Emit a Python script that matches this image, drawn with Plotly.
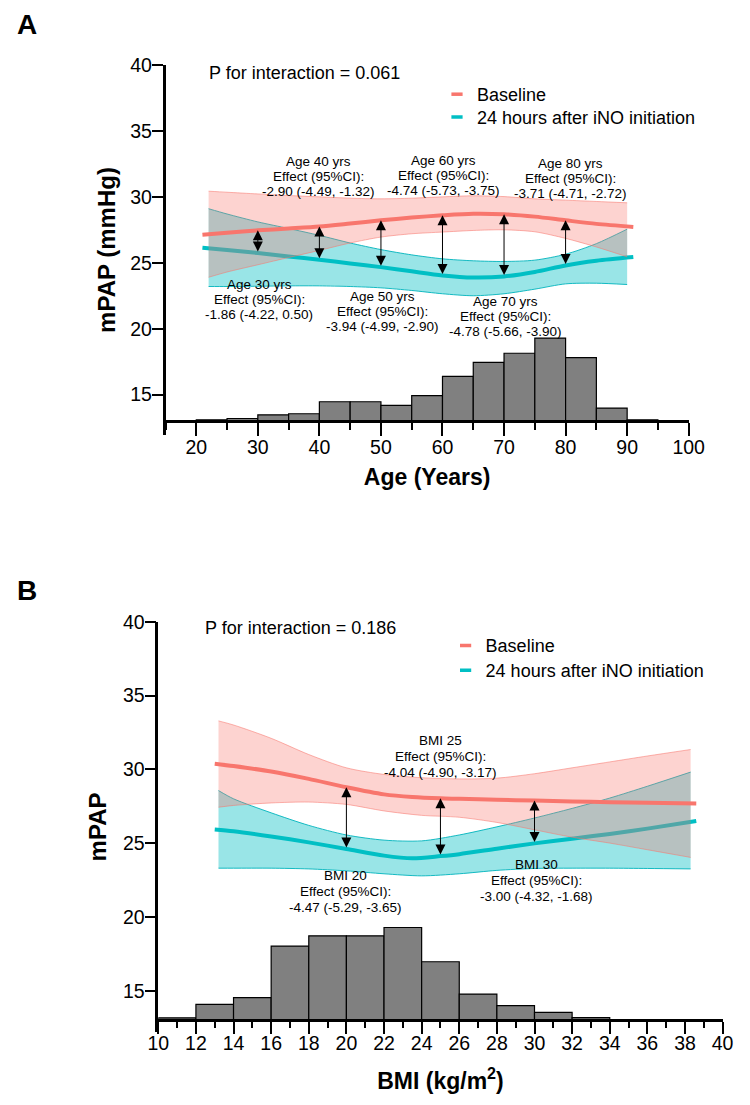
import numpy as np
import plotly.graph_objects as go

FONT = "Liberation Sans, Arial, Helvetica, sans-serif"
W, H = 750, 1105

RED = "#F8766D"
TEAL = "#00BFC4"
RED_BAND = "rgba(248,118,109,0.32)"
TEAL_BAND = "rgba(0,191,196,0.40)"
RED_EDGE = "rgba(248,118,109,0.55)"
TEAL_EDGE = "rgba(0,180,188,0.9)"

# ---------------- Panel A : Age ----------------
age_line_x = [21, 25, 30, 35, 40, 45, 50, 55, 60, 65, 70, 75, 80, 85, 91]
age_baseline = [27.13, 27.27, 27.46, 27.60, 27.75, 27.98, 28.22, 28.43, 28.60, 28.72, 28.68, 28.50, 28.22, 27.95, 27.72]
age_ino = [26.14, 25.97, 25.74, 25.48, 25.23, 24.95, 24.67, 24.35, 24.04, 23.88, 23.96, 24.30, 24.80, 25.15, 25.43]

age_band_x = [22, 25, 30, 35, 40, 45, 50, 55, 60, 65, 70, 75, 80, 85, 90]
age_base_hi = [30.43, 30.35, 30.22, 30.10, 30.00, 29.90, 29.85, 29.90, 30.00, 30.08, 30.02, 29.85, 29.75, 29.65, 29.55]
age_base_lo = [23.90, 24.30, 24.85, 25.40, 25.94, 26.50, 26.95, 27.20, 27.33, 27.45, 27.50, 27.35, 26.85, 26.20, 25.45]
age_ino_hi = [29.10, 28.70, 28.10, 27.60, 27.08, 26.50, 26.00, 25.60, 25.30, 25.15, 25.10, 25.20, 25.65, 26.45, 27.55]
age_ino_lo = [23.20, 23.20, 23.22, 23.25, 23.25, 23.20, 23.10, 22.90, 22.65, 22.50, 22.65, 23.00, 23.40, 23.45, 23.35]

age_hist_edges = [20, 25, 30, 35, 40, 45, 50, 55, 60, 65, 70, 75, 80, 85, 90, 95]
age_hist_top = [13.09, 13.19, 13.47, 13.55, 14.46, 14.46, 14.18, 14.92, 16.38, 17.45, 18.14, 19.29, 17.81, 13.98, 13.09]

age_arrow_x = [30, 40, 50, 60, 70, 80]
age_labels = ["Age 30 yrs", "Age 40 yrs", "Age 50 yrs", "Age 60 yrs", "Age 70 yrs", "Age 80 yrs"]
age_effects = ["-1.86 (-4.22, 0.50)", "-2.90 (-4.49, -1.32)", "-3.94 (-4.99, -2.90)",
               "-4.74 (-5.73, -3.75)", "-4.78 (-5.66, -3.90)", "-3.71 (-4.71, -2.72)"]
age_label_x = [30.2, 39.9, 50.2, 60.2, 70.3, 80.8]
age_label_y = [22.18, 31.53, 21.34, 31.60, 20.96, 31.41]
age_p_text = "P for interaction = 0.061"

# ---------------- Panel B : BMI ----------------
bmi_line_x = [13, 14, 16, 18, 20, 22, 23.5, 25, 26, 28, 30, 32, 34, 36, 38.6]
bmi_baseline = [30.38, 30.22, 29.85, 29.35, 28.78, 28.30, 28.12, 28.03, 28.00, 27.93, 27.88, 27.82, 27.77, 27.73, 27.68]
bmi_ino = [25.92, 25.80, 25.45, 25.05, 24.60, 24.15, 23.97, 24.12, 24.25, 24.62, 24.98, 25.30, 25.62, 25.98, 26.50]

bmi_band_x = [13.2, 14, 16, 18, 20, 22, 24, 26, 28, 30, 32, 34, 36, 38.3]
bmi_base_hi = [33.28, 33.00, 32.10, 31.00, 30.10, 29.65, 29.43, 29.35, 29.40, 29.70, 30.10, 30.50, 30.90, 31.34]
bmi_base_lo = [27.43, 27.55, 27.72, 27.78, 27.62, 27.18, 26.88, 26.75, 26.40, 25.90, 25.40, 25.00, 24.55, 24.03]
bmi_ino_hi = [28.56, 28.00, 27.05, 26.20, 25.55, 25.20, 25.15, 25.55, 26.10, 26.70, 27.35, 28.05, 28.85, 29.81]
bmi_ino_lo = [23.30, 23.30, 23.30, 23.25, 23.12, 22.92, 22.78, 22.92, 23.15, 23.28, 23.30, 23.30, 23.28, 23.25]

bmi_hist_edges = [10, 12, 14, 16, 18, 20, 22, 24, 26, 28, 30, 32, 34]
bmi_hist_top = [13.16, 14.07, 14.53, 18.02, 18.72, 18.72, 19.28, 16.96, 14.77, 13.99, 13.53, 13.17]

bmi_arrow_x = [20, 25, 30]
bmi_labels = ["BMI 20", "BMI 25", "BMI 30"]
bmi_effects = ["-4.47 (-5.29, -3.65)", "-4.04 (-4.90, -3.17)", "-3.00 (-4.32, -1.68)"]
bmi_label_x = [19.97, 24.98, 30.1]
bmi_label_y = [21.75, 30.85, 22.45]
bmi_p_text = "P for interaction = 0.186"

series_names = ["Baseline", "24 hours after iNO initiation"]

# ---------------- layout geometry (pixels) ----------------
A_X = (165.5, 688.7)
A_Y = (65.0, 435.0)      # top, bottom of y-axis line
A_XAXIS_Y = 421.0         # where x axis sits (y = 13)
B_X = (158.3, 722.6)
B_Y = (621.7, 1032.2)
B_XAXIS_Y = 1020.2


def fx(px):
    return px / W


def fy(py):
    return 1 - py / H


fig = go.Figure()


def add_panel(xa, ya, legends, line_x, base, ino, band_x, b_hi, b_lo, i_hi, i_lo,
              edges, tops, hist_base):
    edges = np.asarray(edges, float)
    centers = (edges[:-1] + edges[1:]) / 2
    widths = np.diff(edges)
    tops = np.asarray(tops, float)
    fig.add_trace(go.Bar(x=centers, y=tops - hist_base, base=hist_base, width=widths,
                         marker=dict(color="#808080", line=dict(color="black", width=1.2)),
                         showlegend=False, xaxis=xa, yaxis=ya, hoverinfo="skip"))
    sp = dict(shape="spline", smoothing=0.8)
    # teal band
    fig.add_trace(go.Scatter(x=band_x, y=i_hi, mode="lines", line=dict(color=TEAL_EDGE, width=1, **sp),
                             showlegend=False, xaxis=xa, yaxis=ya, hoverinfo="skip"))
    fig.add_trace(go.Scatter(x=band_x, y=i_lo, mode="lines", line=dict(color=TEAL_EDGE, width=1, **sp),
                             fill="tonexty", fillcolor=TEAL_BAND,
                             showlegend=False, xaxis=xa, yaxis=ya, hoverinfo="skip"))
    fig.add_trace(go.Scatter(x=line_x, y=ino, mode="lines", line=dict(color=TEAL, width=4, **sp),
                             showlegend=False, xaxis=xa, yaxis=ya))
    # red band
    fig.add_trace(go.Scatter(x=band_x, y=b_hi, mode="lines", line=dict(color=RED_EDGE, width=1, **sp),
                             showlegend=False, xaxis=xa, yaxis=ya, hoverinfo="skip"))
    fig.add_trace(go.Scatter(x=band_x, y=b_lo, mode="lines", line=dict(color=RED_EDGE, width=1, **sp),
                             fill="tonexty", fillcolor=RED_BAND,
                             showlegend=False, xaxis=xa, yaxis=ya, hoverinfo="skip"))
    fig.add_trace(go.Scatter(x=line_x, y=base, mode="lines", line=dict(color=RED, width=4, **sp),
                             showlegend=False, xaxis=xa, yaxis=ya))
    # legend entries (short dash symbol), one legend box per entry
    for name, col, lg in zip(series_names, [RED, TEAL], legends):
        fig.add_trace(go.Scatter(x=[None], y=[None], mode="markers", name=name,
                                 marker=dict(symbol="line-ew", size=8, color=col,
                                             line=dict(color=col, width=3.5)),
                                 legend=lg, xaxis=xa, yaxis=ya))


add_panel("x", "y", ["legend", "legend2"], age_line_x, age_baseline, age_ino, age_band_x,
          age_base_hi, age_base_lo, age_ino_hi, age_ino_lo, age_hist_edges, age_hist_top, 13)
add_panel("x2", "y2", ["legend3", "legend4"], bmi_line_x, bmi_baseline, bmi_ino, bmi_band_x,
          bmi_base_hi, bmi_base_lo, bmi_ino_hi, bmi_ino_lo, bmi_hist_edges, bmi_hist_top, 13)

annotations = []


def add_arrows(xref, yref, xs, line_x, base, ino):
    for x in xs:
        top = float(np.interp(x, line_x, base))
        bot = float(np.interp(x, line_x, ino))
        annotations.append(dict(x=x, y=top, ax=x, ay=bot, xref=xref, yref=yref,
                                axref=xref, ayref=yref, text="", showarrow=True,
                                arrowside="end+start", arrowhead=2, arrowsize=2,
                                arrowwidth=1, arrowcolor="black", standoff=0, startstandoff=0))


def add_labels(xref, yref, names, effects, xs, ys, gap):
    for n, e, x, y in zip(names, effects, xs, ys):
        for txt, sh in zip([n, "Effect (95%CI):", e], [gap, 0, -gap]):
            annotations.append(dict(x=x, y=y, xref=xref, yref=yref, text=txt, showarrow=False,
                                    yshift=sh, xanchor="center", yanchor="middle",
                                    font=dict(family=FONT, size=13.5, color="black")))


add_arrows("x", "y", age_arrow_x, age_line_x, age_baseline, age_ino)
add_arrows("x2", "y2", bmi_arrow_x, bmi_line_x, bmi_baseline, bmi_ino)
add_labels("x", "y", age_labels, age_effects, age_label_x, age_label_y, 15)
add_labels("x2", "y2", bmi_labels, bmi_effects, bmi_label_x, bmi_label_y, 16)

annotations += [
    dict(x=fx(207), y=fy(73.3), xref="paper", yref="paper", text=age_p_text, showarrow=False,
         xanchor="left", yanchor="middle", font=dict(family=FONT, size=18, color="black")),
    dict(x=fx(203.3), y=fy(628), xref="paper", yref="paper", text=bmi_p_text, showarrow=False,
         xanchor="left", yanchor="middle", font=dict(family=FONT, size=18, color="black")),
    dict(x=fx(27), y=fy(24), xref="paper", yref="paper", text="<b>A</b>", showarrow=False,
         xanchor="center", yanchor="middle", font=dict(family=FONT, size=28, color="black")),
    dict(x=fx(27), y=fy(590.5), xref="paper", yref="paper", text="<b>B</b>", showarrow=False,
         xanchor="center", yanchor="middle", font=dict(family=FONT, size=28, color="black")),
]

tickfont = dict(family=FONT, size=19.5, color="black")
xtitlefont = dict(family=FONT, size=23, color="black")
ytitlefont = dict(family=FONT, size=24, color="black")


def xaxis_cfg(dom, rng, pos, tick0, dtick, mdtick, tlen, mlen, title, standoff, lstand):
    return dict(domain=[fx(dom[0]), fx(dom[1])], range=rng, anchor="free", position=fy(pos),
                showline=True, linewidth=2.5, linecolor="black", mirror=False,
                ticks="outside", ticklen=tlen, tickwidth=2, tickcolor="black",
                tick0=tick0, dtick=dtick, ticklabelstandoff=lstand,
                minor=dict(ticks="outside", dtick=mdtick, tick0=tick0, ticklen=mlen, tickwidth=2,
                           tickcolor="black", showgrid=False),
                showgrid=False, zeroline=False, tickfont=tickfont, automargin=False,
                title=dict(text=title, font=xtitlefont, standoff=standoff))


def yaxis_cfg(dom, rng, anchor, title, standoff):
    return dict(domain=[fy(dom[1]), fy(dom[0])], range=rng, anchor=anchor,
                showline=True, linewidth=2.5, linecolor="black",
                ticks="outside", ticklen=11, tickwidth=2, tickcolor="black",
                tick0=0, dtick=5, ticklabelstandoff=-4,
                showgrid=False, zeroline=False, tickfont=tickfont,
                automargin=False, title=dict(text=title, font=ytitlefont, standoff=standoff))


def legend_cfg(x_px, top_px):
    return dict(x=fx(x_px), y=fy(top_px), xanchor="left", yanchor="top", bgcolor="rgba(0,0,0,0)",
                font=dict(family=FONT, size=18, color="black"), itemwidth=30, tracegroupgap=0,
                traceorder="normal")


a_pxu = (A_XAXIS_Y - A_Y[0]) / (40 - 13)
b_pxu = (B_XAXIS_Y - B_Y[0]) / (40 - 13)

fig.update_layout(
    width=W, height=H, margin=dict(l=0, r=0, t=0, b=0),
    paper_bgcolor="white", plot_bgcolor="white",
    font=dict(family=FONT, color="black"),
    showlegend=True, barmode="overlay",
    xaxis=xaxis_cfg(A_X, [15, 100], A_XAXIS_Y, 20, 10, 5, 13, 7, "<b>Age (Years)</b>", 11, -5),
    yaxis=yaxis_cfg(A_Y, [13 - (A_Y[1] - A_XAXIS_Y) / a_pxu, 40], "x", "<b>mPAP (mmHg)</b>", 8),
    xaxis2=xaxis_cfg(B_X, [10, 40], B_XAXIS_Y, 10, 2, 1, 12, 6, "<b>BMI (kg/m<sup>2</sup>)</b>", 19, -7),
    yaxis2=yaxis_cfg(B_Y, [13 - (B_Y[1] - B_XAXIS_Y) / b_pxu, 40], "x2", "<b>mPAP</b>", 10),
    legend=legend_cfg(437, 76),
    legend2=legend_cfg(437, 98.7),
    legend3=legend_cfg(445.6, 627.2),
    legend4=legend_cfg(445.6, 652),
    annotations=annotations,
)

fig.write_html("out.html")
